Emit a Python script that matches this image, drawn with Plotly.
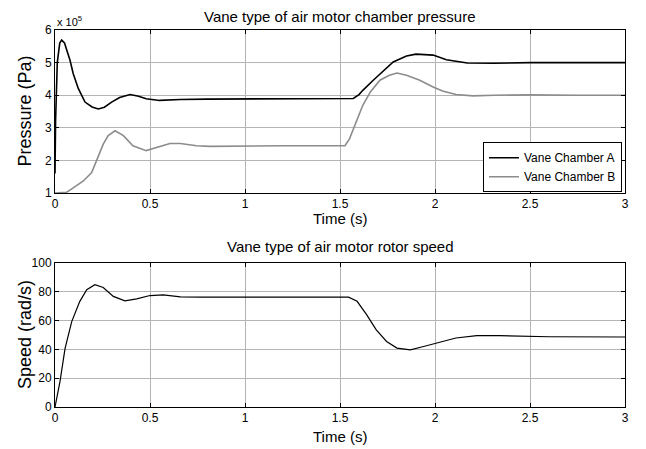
import plotly.graph_objects as go
from plotly.subplots import make_subplots

# chamber pressure, time in s, pressure in Pa
t_a = [0.0, 0.003, 0.012, 0.025, 0.035, 0.05, 0.079, 0.096, 0.123, 0.158, 0.195, 0.228,
       0.26, 0.298, 0.34, 0.395, 0.44, 0.48, 0.55, 0.66, 0.8, 1.0, 1.2, 1.4, 1.55, 1.57,
       1.6, 1.62, 1.675, 1.73, 1.78, 1.85, 1.9, 1.99, 2.06, 2.17, 2.31, 2.5, 2.75, 3.0]
p_a = [1.6e5, 3.2e5, 5.0e5, 5.6e5, 5.69e5, 5.6e5, 5.07e5, 4.66e5, 4.2e5, 3.79e5, 3.64e5, 3.58e5,
       3.63e5, 3.79e5, 3.93e5, 4.02e5, 3.97e5, 3.89e5, 3.84e5, 3.87e5, 3.88e5, 3.88e5, 3.88e5, 3.88e5, 3.88e5, 3.9e5,
       4.02e5, 4.15e5, 4.46e5, 4.77e5, 5.02e5, 5.2e5, 5.26e5, 5.23e5, 5.09e5, 4.99e5, 4.98e5, 5.0e5, 5.0e5, 5.0e5]

t_b = [0.0, 0.03, 0.06, 0.096, 0.149, 0.193, 0.219, 0.254, 0.28, 0.316, 0.36, 0.41,
       0.48, 0.535, 0.605, 0.66, 0.745, 0.815, 1.0, 1.2, 1.4, 1.526, 1.55, 1.59, 1.62,
       1.66, 1.71, 1.76, 1.8, 1.85, 1.92, 1.99, 2.04, 2.11, 2.2, 2.31, 2.5, 2.75, 3.0]
p_b = [1.0e5, 1.0e5, 1.02e5, 1.16e5, 1.37e5, 1.63e5, 1.99e5, 2.5e5, 2.76e5, 2.91e5, 2.76e5, 2.45e5,
       2.3e5, 2.4e5, 2.52e5, 2.52e5, 2.45e5, 2.43e5, 2.45e5, 2.45e5, 2.45e5, 2.45e5, 2.66e5, 3.22e5, 3.69e5,
       4.1e5, 4.46e5, 4.61e5, 4.68e5, 4.61e5, 4.46e5, 4.25e5, 4.13e5, 4.02e5, 3.98e5, 4.0e5, 4.01e5, 4.0e5, 4.0e5]

# rotor speed, rad/s
t_w = [0.0, 0.026, 0.053, 0.088, 0.13, 0.167, 0.21, 0.254, 0.307, 0.368, 0.43, 0.5,
       0.57, 0.66, 0.77, 1.0, 1.3, 1.545, 1.59, 1.64, 1.69, 1.745, 1.8, 1.87, 1.94,
       2.01, 2.11, 2.22, 2.34, 2.6, 3.0]
w = [0.0, 17.4, 40.7, 59.3, 73.2, 81.4, 84.9, 83.0, 76.8, 73.7, 75.1, 77.4,
     77.9, 76.5, 76.3, 76.4, 76.4, 76.3, 73.4, 64.1, 53.7, 45.5, 40.9, 39.7, 42.0,
     44.4, 47.9, 49.5, 49.5, 48.8, 48.6]

p_ticks = [1e5, 2e5, 3e5, 4e5, 5e5, 6e5]
p_labels = ['1', '2', '3', '4', '5', '6']
t_ticks = [0, 0.5, 1, 1.5, 2, 2.5, 3]
t_labels = ['0', '0.5', '1', '1.5', '2', '2.5', '3']
w_ticks = [0, 20, 40, 60, 80, 100]

font = 'Liberation Sans, Arial, sans-serif'

# page body has an 8px margin, so the figure is 8px smaller than the window
top_dom = [0.5676, 1.0]
bot_dom = [0.0, 0.382]

fig = make_subplots(rows=2, cols=1)
fig.add_scatter(x=t_a, y=p_a, mode='lines', name='Vane Chamber A',
                line=dict(color='black', width=1.6), row=1, col=1)
fig.add_scatter(x=t_b, y=p_b, mode='lines', name='Vane Chamber B',
                line=dict(color='#8c8c8c', width=1.6), row=1, col=1)
fig.add_scatter(x=t_w, y=w, mode='lines', showlegend=False,
                line=dict(color='black', width=1.2), row=2, col=1)

axis = dict(showline=True, linecolor='black', linewidth=1, mirror='ticks',
            ticks='inside', ticklen=4, tickcolor='black', automargin=False,
            showgrid=True, gridcolor='#b4b4b4', gridwidth=1, zeroline=False,
            tickfont=dict(size=12, color='black'))

fig.update_xaxes(**axis, range=[0, 3], tickvals=t_ticks, ticktext=t_labels, domain=[0, 1])
fig.update_yaxes(**axis)
fig.update_yaxes(range=[1e5, 6e5], tickvals=p_ticks, ticktext=p_labels,
                 domain=top_dom, row=1, col=1)
fig.update_yaxes(range=[0, 100], tickvals=w_ticks, domain=bot_dom, row=2, col=1)

# titles
fig.add_annotation(text='Vane type of air motor chamber pressure', x=0.5, y=top_dom[1],
                   yshift=14, yanchor='middle', borderpad=0)
fig.add_annotation(text='Vane type of air motor rotor speed', x=0.5, y=bot_dom[1],
                   yshift=16, yanchor='middle')
fig.update_annotations(xref='paper', yref='paper', showarrow=False, font=dict(size=15))
fig.add_annotation(text='x 10<sup>5</sup>', xref='paper', yref='paper', x=0, y=1.0,
                   xanchor='left', yanchor='bottom', showarrow=False, font=dict(size=11))

# axis titles
for y0, dy in [(top_dom[0], -25), (bot_dom[0], -29)]:
    fig.add_annotation(text='Time (s)', xref='paper', yref='paper', x=0.5, y=y0,
                       yshift=dy, yanchor='middle', showarrow=False, font=dict(size=15))
for dom, label in [(top_dom, 'Pressure (Pa)'), (bot_dom, 'Speed (rad/s)')]:
    fig.add_annotation(text=label, xref='paper', yref='paper', x=0, y=sum(dom) / 2,
                       xshift=-30, xanchor='center', yanchor='middle', textangle=-90,
                       showarrow=False, font=dict(size=18))

fig.update_layout(
    width=638, height=441,
    margin=dict(l=47, r=21, t=22, b=42),
    paper_bgcolor='white', plot_bgcolor='white',
    font=dict(family=font, color='black'),
    legend=dict(x=0.9947, y=0.5696, xanchor='right', yanchor='bottom',
                bordercolor='black', borderwidth=1, bgcolor='white',
                font=dict(size=12), tracegroupgap=0, itemwidth=30),
)

fig.write_html("out.html")
